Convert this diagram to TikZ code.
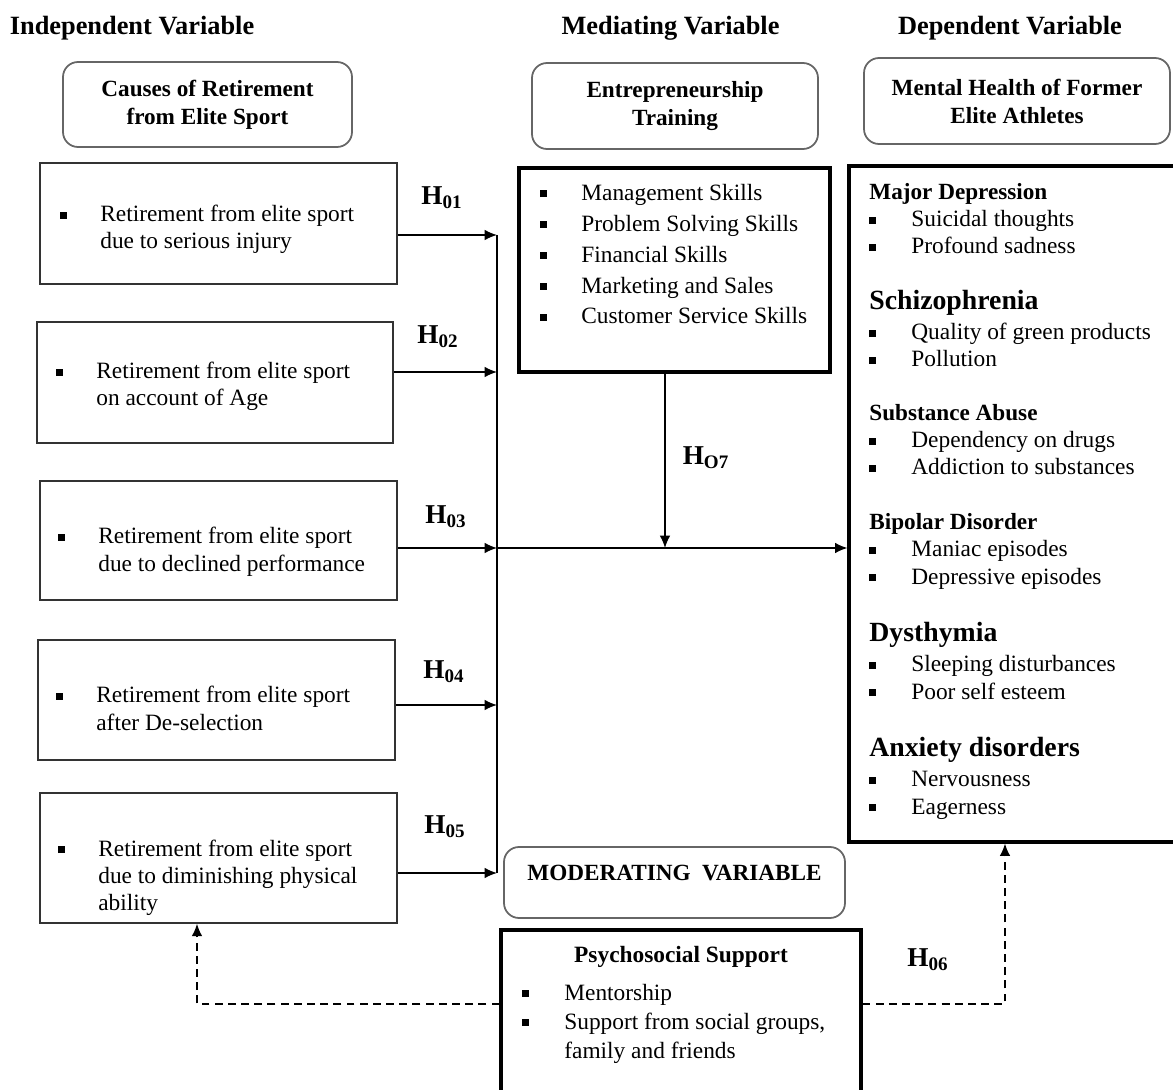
\documentclass[tikz,border=0pt]{standalone}
\usepackage{fontspec}
\setmainfont{Liberation Serif}
\usetikzlibrary{shapes,arrows,arrows.meta,positioning,calc}

\newcommand{\bulsq}{\rule[0.3ex]{3.8pt}{3.8pt}}
\newcommand{\itm}[2][0.8cm]{\makebox[#1][l]{\bulsq}#2}
\newcommand{\smallhd}{\bfseries\fontsize{13.2}{15}\selectfont}
\newcommand{\bighd}{\bfseries\fontsize{15.8}{18}\selectfont}

\begin{document}
\begin{tikzpicture}[
    x=1cm, y=-1cm,
    head/.style={font=\bfseries\fontsize{15}{18}\selectfont, inner sep=0pt},
    varbox/.style={draw=black!60, line width=1pt, rounded corners=0.3cm, align=center, font=\bfseries\fontsize{13.2}{15.9}\selectfont},
    causebox/.style={draw=black!80, line width=0.9pt, minimum width=7.14cm, minimum height=2.42cm},
    heavybox/.style={draw, line width=1.8pt},
    txt/.style={anchor=base west, align=left, inner sep=0pt, font=\fontsize{13.3}{15.4}\selectfont},
    hyp/.style={font=\bfseries\fontsize{15.5}{18}\selectfont, inner sep=0pt},
    arrow/.style={-{Latex[length=7pt,width=6pt]}, line width=0.8pt},
    bus/.style={line width=1.6pt},
    dasharrow/.style={-{Latex[length=7pt,width=6pt]}, dash pattern=on 4.5pt off 3pt, line width=0.8pt}
]
\useasboundingbox (0,0) rectangle (23.46,21.8);

% Headings
\node[head, anchor=west] (hind) at (0.19,0.56) {Independent Variable};
\node[head] (hmed) at (13.41,0.56) {Mediating Variable};
\node[head] (hdep) at (20.2,0.56) {Dependent Variable};

% Variable boxes
\node[varbox, minimum width=5.78cm, minimum height=1.7cm] (cause) at (4.15,2.09) {Causes of Retirement\\from Elite Sport};
\node[varbox, minimum width=5.72cm, minimum height=1.72cm] (entre) at (13.5,2.12) {Entrepreneurship\\Training};
\node[varbox, minimum width=6.12cm, minimum height=1.72cm] (health) at (20.34,2.02) {Mental Health of Former\\Elite Athletes};
\node[varbox, minimum width=6.82cm, minimum height=1.42cm, text depth=0.38cm] (mod) at (13.49,17.65) {MODERATING\ \ VARIABLE};

% Causes of retirement (text anchored at the last baseline)
\node[causebox] (c1) at (4.37,4.47) {};
\node[causebox, minimum width=7.12cm] (c2) at (4.3,7.65) {};
\node[causebox, minimum height=2.38cm] (c3) at (4.37,10.81) {};
\node[causebox, minimum height=2.4cm] (c4) at (4.33,14.0) {};
\node[causebox, minimum height=2.6cm] (c5) at (4.37,17.16) {};

\node[txt] (t1) at (1.2,4.98) {\itm{Retirement from elite sport}\\\hspace*{0.8cm}due to serious injury};
\node[txt] (t2) at (1.12,8.12) {\itm{Retirement from elite sport}\\\hspace*{0.8cm}on account of Age};
\node[txt] (t3) at (1.16,11.42) {\itm{Retirement from elite sport}\\\hspace*{0.8cm}due to declined performance};
\node[txt] (t4) at (1.12,14.6) {\itm{Retirement from elite sport}\\\hspace*{0.8cm}after De-selection};
\node[txt] (t5) at (1.16,18.21) {\itm{Retirement from elite sport}\\\hspace*{0.8cm}due to diminishing physical\\\hspace*{0.8cm}ability};

% Mediator
\node[heavybox, minimum width=6.22cm, minimum height=4.08cm] (med) at (13.49,5.4) {};
\node[txt, font=\fontsize{13.3}{17.6}\selectfont] (medtxt) at (10.8,6.48) {\itm[0.82cm]{Management Skills}\\\itm[0.82cm]{Problem Solving Skills}\\\itm[0.82cm]{Financial Skills}\\\itm[0.82cm]{Marketing and Sales}\\\itm[0.82cm]{Customer Service Skills}};

% Dependent
\node[heavybox, minimum width=6.54cm, minimum height=13.52cm] (dep) at (20.25,10.08) {};
\node[txt] (g1) at (17.38,5.08) {{\smallhd Major Depression}\\\itm[0.84cm]{Suicidal thoughts}\\\itm[0.84cm]{Profound sadness}};
\node[txt] (g2) at (17.38,7.34) {{\bighd Schizophrenia}\\[2pt]\itm[0.84cm]{Quality of green products}\\\itm[0.84cm]{Pollution}};
\node[txt] (g3) at (17.38,9.5) {{\smallhd Substance Abuse}\\\itm[0.84cm]{Dependency on drugs}\\\itm[0.84cm]{Addiction to substances}};
\node[txt] (g4) at (17.38,11.68) {{\smallhd Bipolar Disorder}\\\itm[0.84cm]{Maniac episodes}\\\itm[0.84cm]{Depressive episodes}};
\node[txt] (g5) at (17.38,13.98) {{\bighd Dysthymia}\\[2pt]\itm[0.84cm]{Sleeping disturbances}\\\itm[0.84cm]{Poor self esteem}};
\node[txt] (g6) at (17.38,16.28) {{\bighd Anxiety disorders}\\[2pt]\itm[0.84cm]{Nervousness}\\\itm[0.84cm]{Eagerness}};

% Moderator
\node[heavybox, minimum width=7.2cm, minimum height=3.5cm] (psych) at (13.62,20.35) {};
\node[font=\bfseries\fontsize{13.3}{16}\selectfont, inner sep=0pt] (psyhead) at (13.62,19.14) {Psychosocial Support};
\node[txt, font=\fontsize{13.3}{16.5}\selectfont] (psytxt) at (10.44,21.16) {\itm[0.84cm]{Mentorship}\\\itm[0.84cm]{Support from social groups,}\\\hspace*{0.84cm}family and friends};

% Junctions
\coordinate (b1) at (9.94,4.7);
\coordinate (b2) at (9.94,7.44);
\coordinate (b3) at (9.94,10.96);
\coordinate (b4) at (9.94,14.1);
\coordinate (b5) at (9.94,17.46);
\coordinate (jn) at (13.3,10.96);
\coordinate (d1) at (3.94,20.08);
\coordinate (d2) at (20.1,20.08);

% Paths
\draw[arrow] (c1.east |- b1) -- (b1);
\draw[arrow] (c2.east |- b2) -- (b2);
\draw[arrow] (c3.east |- b3) -- (b3);
\draw[arrow] (c4.east |- b4) -- (b4);
\draw[arrow] (c5.east |- b5) -- (b5);
\draw[bus] (b1) -- (b5);
\draw[arrow] (b3) -- (b3 -| dep.west);
\draw[arrow] (jn |- med.south) -- (jn);
\draw[dasharrow] (psych.west |- d1) -- (d1) -- (d1 |- c5.south);
\draw[dasharrow] (psych.east |- d2) -- (d2) -- (d2 |- dep.south);

% Hypotheses
\node[hyp] (h01) at (8.84,3.96) {H\textsubscript{01}};
\node[hyp] (h02) at (8.76,6.74) {H\textsubscript{02}};
\node[hyp] (h03) at (8.92,10.34) {H\textsubscript{03}};
\node[hyp] (h04) at (8.88,13.44) {H\textsubscript{04}};
\node[hyp] (h05) at (8.9,16.54) {H\textsubscript{05}};
\node[hyp] (h06) at (18.56,19.2) {H\textsubscript{06}};
\node[hyp] (h07) at (14.12,9.16) {H\textsubscript{O7}};

\end{tikzpicture}
\end{document}
